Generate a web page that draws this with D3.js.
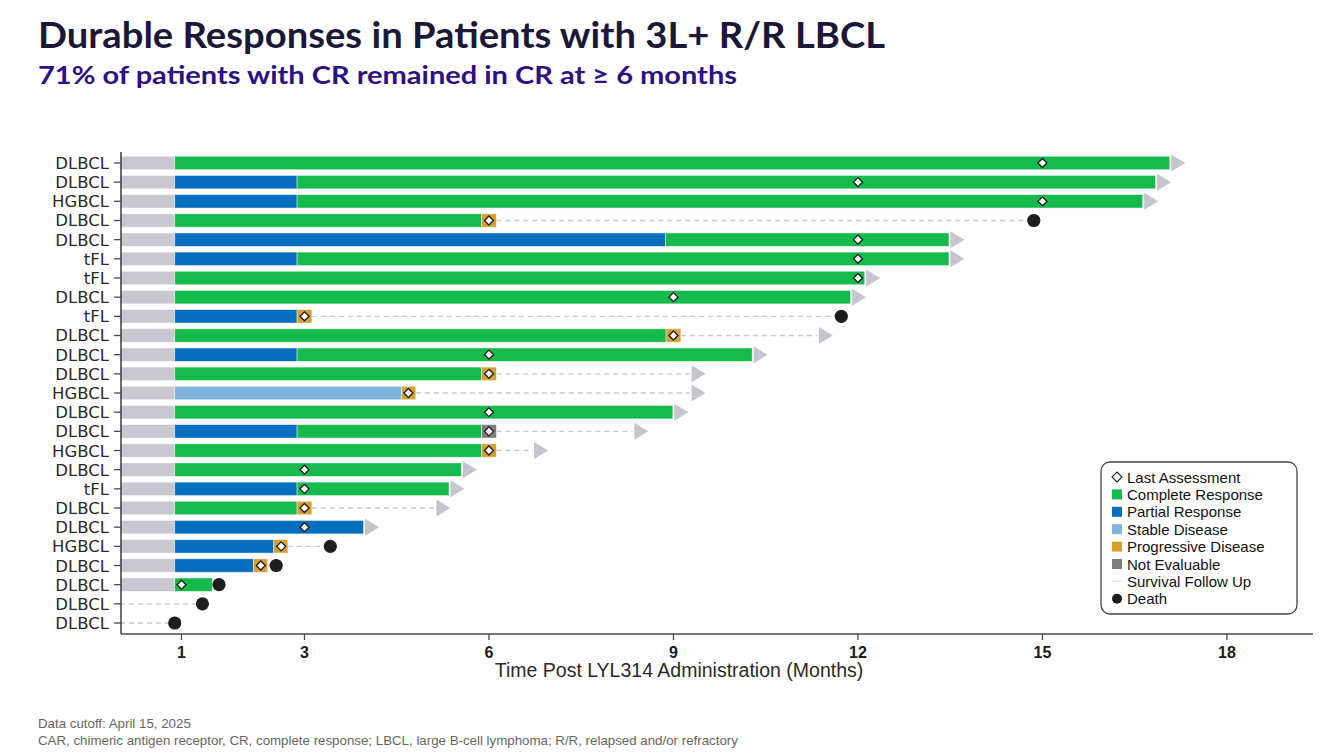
<!DOCTYPE html>
<html>
<head>
<meta charset="utf-8">
<script src="https://cdn.jsdelivr.net/npm/d3@7"></script>
<style>
  body { margin: 0; background: #fff; }
  svg { display: block; }
</style>
</head>
<body>
<svg id="chart" width="1333" height="756"></svg>
<script>
// patient rows, top to bottom
const subtypes = ['DLBCL', 'DLBCL', 'HGBCL', 'DLBCL', 'DLBCL', 'tFL', 'tFL', 'DLBCL', 'tFL', 'DLBCL',
  'DLBCL', 'DLBCL', 'HGBCL', 'DLBCL', 'DLBCL', 'HGBCL', 'DLBCL', 'tFL', 'DLBCL', 'DLBCL',
  'HGBCL', 'DLBCL', 'DLBCL', 'DLBCL', 'DLBCL'];

// response segments per row: [status, start month, end month]
const segments = [
  [['pre', 0, 0.89], ['CR', 0.89, 17.07]],
  [['pre', 0, 0.89], ['PR', 0.89, 2.88], ['CR', 2.88, 16.84]],
  [['pre', 0, 0.89], ['PR', 0.89, 2.88], ['CR', 2.88, 16.63]],
  [['pre', 0, 0.89], ['CR', 0.89, 5.88], ['PD', 5.88, 6.12]],
  [['pre', 0, 0.89], ['PR', 0.89, 8.87], ['CR', 8.87, 13.48]],
  [['pre', 0, 0.89], ['PR', 0.89, 2.88], ['CR', 2.88, 13.48]],
  [['pre', 0, 0.89], ['CR', 0.89, 12.11]],
  [['pre', 0, 0.89], ['CR', 0.89, 11.88]],
  [['pre', 0, 0.89], ['PR', 0.89, 2.88], ['PD', 2.88, 3.12]],
  [['pre', 0, 0.89], ['CR', 0.89, 8.88], ['PD', 8.88, 9.12]],
  [['pre', 0, 0.89], ['PR', 0.89, 2.88], ['CR', 2.88, 10.28]],
  [['pre', 0, 0.89], ['CR', 0.89, 5.88], ['PD', 5.88, 6.12]],
  [['pre', 0, 0.89], ['SD', 0.89, 4.58], ['PD', 4.58, 4.81]],
  [['pre', 0, 0.89], ['CR', 0.89, 8.99]],
  [['pre', 0, 0.89], ['PR', 0.89, 2.88], ['CR', 2.88, 5.88], ['NE', 5.88, 6.12]],
  [['pre', 0, 0.89], ['CR', 0.89, 5.88], ['PD', 5.88, 6.12]],
  [['pre', 0, 0.89], ['CR', 0.89, 5.55]],
  [['pre', 0, 0.89], ['PR', 0.89, 2.88], ['CR', 2.88, 5.35]],
  [['pre', 0, 0.89], ['CR', 0.89, 2.88], ['PD', 2.88, 3.12]],
  [['pre', 0, 0.89], ['PR', 0.89, 3.96]],
  [['pre', 0, 0.89], ['PR', 0.89, 2.50], ['PD', 2.50, 2.73]],
  [['pre', 0, 0.89], ['PR', 0.89, 2.17], ['PD', 2.17, 2.40]],
  [['pre', 0, 0.89], ['CR', 0.89, 1.50]],
  [],
  []
];

const lastAssessment = [15, 12, 15, 6, 12, 12, 12, 9, 3, 9, 6, 6, 4.69, 6, 6, 6, 3, 3, 3, 3, 2.62, 2.29, 1.0, null, null];

// end of follow up and how it ended
const eventTime = [17.07, 16.84, 16.63, 14.86, 13.48, 13.48, 12.11, 11.88, 11.73, 11.34,
  10.28, 9.27, 9.27, 8.99, 8.34, 6.71, 5.55, 5.35, 5.12, 3.96, 3.42, 2.54, 1.61, 1.34, 0.89];
const eventType = ['ongoing', 'ongoing', 'ongoing', 'death', 'ongoing', 'ongoing', 'ongoing', 'ongoing', 'death', 'ongoing',
  'ongoing', 'ongoing', 'ongoing', 'ongoing', 'ongoing', 'ongoing', 'ongoing', 'ongoing', 'ongoing', 'ongoing',
  'death', 'death', 'death', 'death', 'death'];

const xTicks = [1, 3, 6, 9, 12, 15, 18];

const legendItems = ['Last Assessment', 'Complete Response', 'Partial Response', 'Stable Disease',
  'Progressive Disease', 'Not Evaluable', 'Survival Follow Up', 'Death'];

const statusColor = {
  pre: '#c9c7d0',
  CR: '#15ba4d',
  PR: '#066ebe',
  SD: '#7fb3de',
  PD: '#d7a02c',
  NE: '#7d7d7d'
};

var svg = d3.select('#chart');

var x = d3.scaleLinear().domain([0, 19.4]).range([120, 1313]);
var y = d3.scaleBand().domain(d3.range(subtypes.length)).range([153.4, 632.6]).paddingInner(0.3).paddingOuter(0.15);
var bh = y.bandwidth();
var yc = i => y(i) + bh / 2;

// title (Century Gothic style is wide, so stretch to the slide width)
svg.append('text')
  .attr('x', 38).attr('y', 48)
  .attr('font-family', 'Lato, sans-serif')
  .attr('font-weight', 700)
  .attr('font-size', 36)
  .attr('fill', '#1b1837')
  .attr('textLength', 847)
  .attr('lengthAdjust', 'spacingAndGlyphs')
  .text('Durable Responses in Patients with 3L+ R/R LBCL');

svg.append('text')
  .attr('x', 38).attr('y', 84)
  .attr('font-family', 'Lato, sans-serif')
  .attr('font-weight', 700)
  .attr('font-size', 25)
  .attr('fill', '#2d1083')
  .attr('textLength', 699)
  .attr('lengthAdjust', 'spacingAndGlyphs')
  .text('71% of patients with CR remained in CR at \u2265 6 months');

var plot = svg.append('g');

// survival follow up dashes
plot.selectAll('.follow')
  .data(d3.range(subtypes.length))
  .enter()
  .append('line')
  .attr('class', 'follow')
  .attr('x1', i => x(segments[i].length ? segments[i][segments[i].length - 1][2] : 0))
  .attr('x2', i => x(eventTime[i]))
  .attr('y1', yc)
  .attr('y2', yc)
  .attr('stroke', '#c9c8ce')
  .attr('stroke-width', 1.4)
  .attr('stroke-dasharray', '5,4');

// bars
var rows = plot.selectAll('.row')
  .data(d3.range(subtypes.length))
  .enter()
  .append('g')
  .attr('class', 'row');

rows.selectAll('rect')
  .data(i => segments[i].map(s => ({ row: i, status: s[0], start: s[1], end: s[2] })))
  .enter()
  .append('rect')
  .attr('x', d => x(d.start))
  .attr('y', d => y(d.row))
  .attr('width', d => x(d.end) - x(d.start))
  .attr('height', bh)
  .attr('fill', d => statusColor[d.status])
  .attr('stroke', 'rgba(255,255,255,0.55)')
  .attr('stroke-width', 0.8);

// ongoing arrows
var ongoing = d3.range(subtypes.length).filter(i => eventType[i] === 'ongoing');
plot.selectAll('.arrow')
  .data(ongoing)
  .enter()
  .append('path')
  .attr('class', 'arrow')
  .attr('d', i => {
    var x0 = x(eventTime[i]) + 1.5, c = yc(i);
    return `M${x0},${c - 8.5}L${x0 + 14},${c}L${x0},${c + 8.5}Z`;
  })
  .attr('fill', '#c6c4cc');

// deaths
var deaths = d3.range(subtypes.length).filter(i => eventType[i] === 'death');
plot.selectAll('.death')
  .data(deaths)
  .enter()
  .append('circle')
  .attr('class', 'death')
  .attr('cx', i => x(eventTime[i]))
  .attr('cy', yc)
  .attr('r', 6.6)
  .attr('fill', '#1e1e1e');

// last assessment diamonds
var diamond = (cx, cy, r) => `M${cx},${cy - r}L${cx + r},${cy}L${cx},${cy + r}L${cx - r},${cy}Z`;
plot.selectAll('.last')
  .data(d3.range(subtypes.length).filter(i => lastAssessment[i] != null))
  .enter()
  .append('path')
  .attr('class', 'last')
  .attr('d', i => diamond(x(lastAssessment[i]), yc(i), 4.5))
  .attr('fill', '#fff')
  .attr('stroke', '#1a1a1a')
  .attr('stroke-width', 1.3);

// axes
var axisColor = '#4a4a4a';
svg.append('line')
  .attr('x1', 121).attr('x2', 121).attr('y1', 152).attr('y2', 634)
  .attr('stroke', axisColor).attr('stroke-width', 1.6);
svg.append('line')
  .attr('x1', 121).attr('x2', 1313).attr('y1', 634).attr('y2', 634)
  .attr('stroke', axisColor).attr('stroke-width', 1.6);

var yAxis = svg.append('g');
yAxis.selectAll('line')
  .data(d3.range(subtypes.length))
  .enter()
  .append('line')
  .attr('x1', 114).attr('x2', 121)
  .attr('y1', yc).attr('y2', yc)
  .attr('stroke', axisColor).attr('stroke-width', 1.3);
yAxis.selectAll('text')
  .data(d3.range(subtypes.length))
  .enter()
  .append('text')
  .attr('x', 109)
  .attr('y', i => yc(i) + 6)
  .attr('text-anchor', 'end')
  .attr('font-family', '"DejaVu Sans", sans-serif')
  .attr('font-size', 16.5)
  .attr('fill', '#2a2a2a')
  .text(i => subtypes[i]);

var xAxis = svg.append('g');
xAxis.selectAll('line')
  .data(xTicks)
  .enter()
  .append('line')
  .attr('x1', d => x(d)).attr('x2', d => x(d))
  .attr('y1', 634).attr('y2', 640)
  .attr('stroke', axisColor).attr('stroke-width', 1.3);
xAxis.selectAll('text')
  .data(xTicks)
  .enter()
  .append('text')
  .attr('x', d => x(d))
  .attr('y', 658)
  .attr('text-anchor', 'middle')
  .attr('font-family', '"Liberation Sans Narrow", "Liberation Sans", sans-serif')
  .attr('font-weight', 700)
  .attr('font-size', 16)
  .attr('fill', '#1a1a1a')
  .text(d => d);

svg.append('text')
  .attr('x', 679).attr('y', 677)
  .attr('text-anchor', 'middle')
  .attr('font-family', '"Liberation Sans Narrow", "Liberation Sans", sans-serif')
  .attr('font-size', 19.5)
  .attr('fill', '#2a2a2a')
  .text('Time Post LYL314 Administration (Months)');

// legend
var legend = svg.append('g').attr('transform', 'translate(1101,462)');
legend.append('rect')
  .attr('width', 196).attr('height', 152)
  .attr('rx', 9)
  .attr('fill', '#fff')
  .attr('stroke', '#444').attr('stroke-width', 1.3);

const LEGEND_ROW = 17.4;
var legendElem = legend.selectAll('.item')
  .data(legendItems)
  .enter()
  .append('g')
  .attr('class', 'item')
  .attr('transform', (d, i) => `translate(0,${15 + i * LEGEND_ROW})`);

legendElem.each(function (d, i) {
  var g = d3.select(this);
  if (i === 0) {
    g.append('path').attr('d', diamond(16, 0, 5)).attr('fill', '#fff').attr('stroke', '#222').attr('stroke-width', 1.1);
  } else if (i >= 1 && i <= 5) {
    var key = ['CR', 'PR', 'SD', 'PD', 'NE'][i - 1];
    g.append('rect').attr('x', 11).attr('y', -5).attr('width', 10).attr('height', 10).attr('fill', statusColor[key]);
  } else if (i === 6) {
    g.append('line').attr('x1', 11).attr('x2', 21).attr('y1', 0).attr('y2', 0)
      .attr('stroke', '#c9c8ce').attr('stroke-width', 1).attr('stroke-dasharray', '2,1.5');
  } else {
    g.append('circle').attr('cx', 16).attr('cy', 0).attr('r', 5).attr('fill', '#1e1e1e');
  }
});

legendElem.append('text')
  .attr('x', 26)
  .attr('y', 5.5)
  .attr('font-family', '"Liberation Sans", Arial, sans-serif')
  .attr('font-size', 15)
  .attr('fill', '#111')
  .text(d => d);

// footnotes
svg.append('text')
  .attr('x', 38).attr('y', 728)
  .attr('font-family', '"Liberation Sans Narrow", "Liberation Sans", sans-serif')
  .attr('font-size', 13.3)
  .attr('fill', '#666')
  .text('Data cutoff: April 15, 2025');
svg.append('text')
  .attr('x', 38).attr('y', 745)
  .attr('font-family', '"Liberation Sans Narrow", "Liberation Sans", sans-serif')
  .attr('font-size', 13.3)
  .attr('fill', '#666')
  .text('CAR, chimeric antigen receptor, CR, complete response; LBCL, large B-cell lymphoma; R/R, relapsed and/or refractory');
</script>
</body>
</html>
